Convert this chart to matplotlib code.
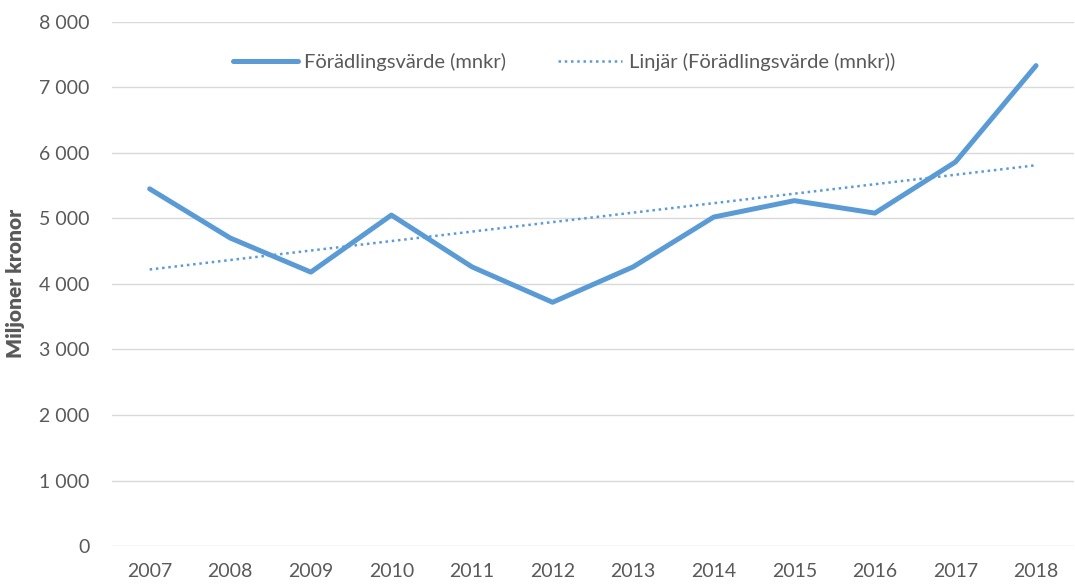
import matplotlib
matplotlib.use("Agg")
import matplotlib.pyplot as plt
import matplotlib.ticker as ticker
import numpy as np

years = [2007, 2008, 2009, 2010, 2011, 2012, 2013, 2014, 2015, 2016, 2017, 2018]
forädlingsvärde = [5450, 4700, 4180, 5050, 4260, 3720, 4260, 5020, 5270, 5080, 5860, 7330]
yticks = [0, 1000, 2000, 3000, 4000, 5000, 6000, 7000, 8000]

blue = '#5B9BD5'
grey = '#595959'
plt.rcParams['font.family'] = ['Lato', 'DejaVu Sans']

fig = plt.figure(figsize=(10.75, 5.86), dpi=100)
ax = fig.add_axes([0.104, 0.068, 0.895, 0.895])

x = np.arange(len(years))
ax.plot(x, forädlingsvärde, color=blue, linewidth=3.6, solid_capstyle='round',
        label='Förädlingsvärde (mnkr)', zorder=3)

# linear trendline, as Excel does it
k, m = np.polyfit(x, forädlingsvärde, 1)
ax.plot(x, k * x + m, color=blue, linewidth=1.8, linestyle=(0, (1, 1.5)),
        label='Linjär (Förädlingsvärde (mnkr))', zorder=2)

ax.set_xlim(-0.47, len(years) - 0.53)
ax.set_ylim(0, 8000)
ax.set_xticks(x)
ax.set_xticklabels([str(y) for y in years])
ax.set_yticks(yticks)
ax.yaxis.set_major_formatter(ticker.FuncFormatter(lambda v, p: f'{int(v):,}'.replace(',', ' ')))

ax.grid(axis='y', color='#D9D9D9', linewidth=1.0)
ax.set_axisbelow(True)
for s in ax.spines.values():
    s.set_visible(False)
ax.tick_params(length=0, labelsize=14, colors=grey)
ax.tick_params(axis='y', pad=16)
ax.tick_params(axis='x', pad=12)

ax.set_ylabel('Miljoner kronor', fontsize=15, fontweight='heavy', color=grey, labelpad=10)

ax.legend(loc='upper center', bbox_to_anchor=(0.47, 0.975), ncol=2, frameon=False,
          fontsize=14.5, labelcolor=grey, handlelength=3.2, columnspacing=2.6, handletextpad=0.3)

fig.savefig('out.png', dpi=100)
